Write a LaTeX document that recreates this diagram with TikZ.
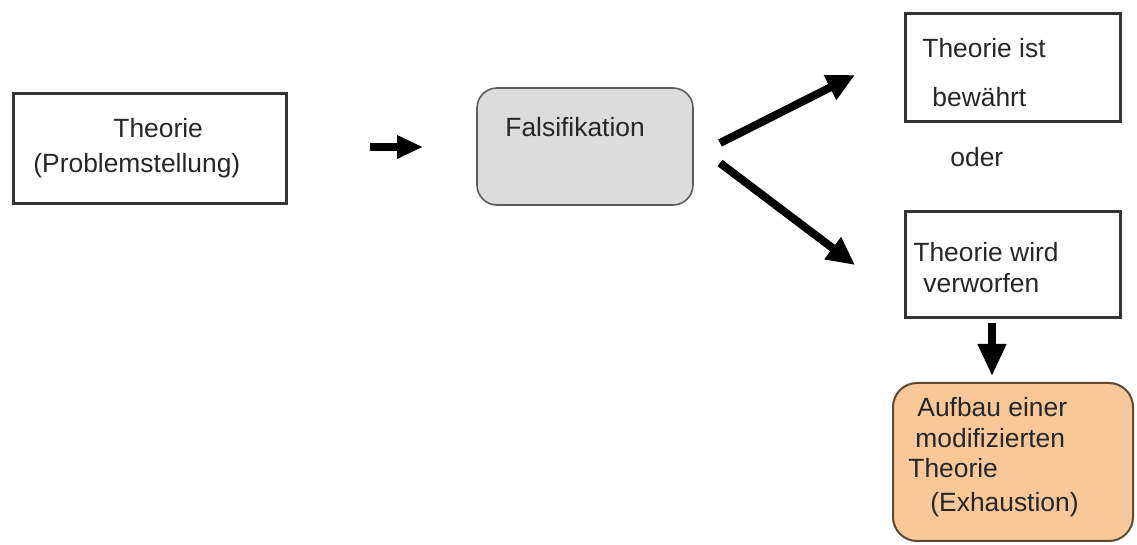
\documentclass[tikz,border=0pt]{standalone}
\usepackage{fontspec}
\setmainfont{Liberation Sans}
\usepackage{tikz}
\usetikzlibrary{positioning,shapes,arrows.meta,fit,calc}
\usepackage{xcolor}
\definecolor{dgrey}{HTML}{333333}
\definecolor{lgrey}{HTML}{DCDCDC}
\definecolor{peach}{HTML}{F9C89A}
\definecolor{dbrown}{HTML}{5C4A35}
\tikzstyle{plainbox} = [draw=dgrey, line width=1.5pt, rectangle, inner sep=0pt]
\tikzstyle{roundbox} = [draw=dgrey!80, line width=0.8pt, rectangle, rounded corners=10pt, inner sep=0pt]
\tikzstyle{txt} = [anchor=base west, inner sep=0pt, text=black!85,
    font=\fontsize{13.2pt}{16pt}\selectfont]
\tikzstyle{bigarrow} = [line width=3.6pt, -{Triangle[length=14pt,width=13pt]}]

\begin{document}
\begin{tikzpicture}[x=0.5pt,y=-0.5pt]
\useasboundingbox (0,0) rectangle (1137,545);

\node (problem) [plainbox, fit={(13,94) (286,204)}] {};
\node (problem1) [txt] at (113,138) {Theorie};
\node (problem2) [txt] at (33,173) {(Problemstellung)};

\node (falsi) [roundbox, fill=lgrey, fit={(477,88) (693,205)}] {};
\node (falsitxt) [txt] at (505,137) {Falsifikation};

\node (bewaehrt) [plainbox, fit={(905,14) (1120,122)}] {};
\node (bewaehrt1) [txt] at (922,58) {Theorie ist};
\node (bewaehrt2) [txt] at (932,107) {bewährt};

\node (oder) [txt] at (950,167) {oder};

\node (verworfen) [plainbox, fit={(905,212) (1120,318)}] {};
\node (verworfen1) [txt] at (913,262) {Theorie wird};
\node (verworfen2) [txt] at (923,293) {verworfen};

\node (neu) [roundbox, rounded corners=12pt, draw=dbrown, line width=1pt, fill=peach, fit={(893,383) (1133,541)}] {};
\node (neu1) [txt] at (917,417) {Aufbau einer};
\node (neu2) [txt] at (915,448) {modifizierten};
\node (neu3) [txt] at (908,478) {Theorie};
\node (neu4) [txt] at (930,512) {(Exhaustion)};

\coordinate (p0) at (370,147);
\coordinate (p1) at (423,147);
\coordinate (f0) at (720,143);
\coordinate (f1) at (720,163);
\coordinate (b0) at (855,75);
\coordinate (v0) at (855,265);
\coordinate (n0) at (992,323);
\coordinate (n1) at (992,376);

\draw [bigarrow, -{Triangle[length=13pt,width=11pt]}] (p0) -- (p1);
\draw [bigarrow, line width=4pt] (f0) -- (b0);
\draw [bigarrow, line width=4pt] (f1) -- (v0);
\draw [bigarrow, -{Triangle[length=16pt,width=13.5pt]}] (n0) -- (n1);
\end{tikzpicture}
\end{document}
